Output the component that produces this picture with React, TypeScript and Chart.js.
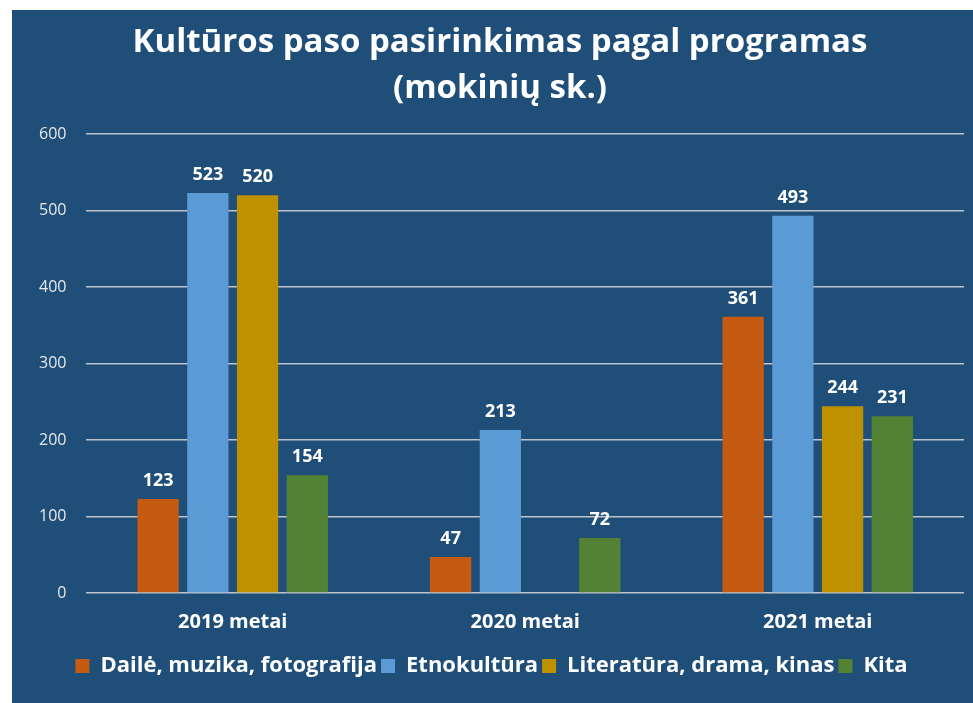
import React, { useEffect, useRef } from "react";
import { Chart, registerables } from "chart.js";

Chart.register(...registerables);

const categories = ["2019 metai", "2020 metai", "2021 metai"];
const seriesNames = ["Dailė, muzika, fotografija", "Etnokultūra", "Literatūra, drama, kinas", "Kita"];
const dailė = [123, 47, 361];
const etnokultura = [523, 213, 493];
const literatura: (number | null)[] = [520, null, 244];
const kita = [154, 72, 231];
const seriesColors = ["#C55A11", "#5B9BD5", "#BF9000", "#548235"];
const titleLines = ["Kultūros paso pasirinkimas pagal programas", "(mokinių sk.)"];

const FONT = "'Open Sans', Lato, sans-serif";

const valueLabels = {
  id: "valueLabels",
  afterDatasetsDraw(chart: any) {
    const ctx = chart.ctx;
    ctx.save();
    ctx.fillStyle = "#FFFFFF";
    ctx.font = `bold 18px ${FONT}`;
    ctx.textAlign = "center";
    ctx.textBaseline = "bottom";
    chart.data.datasets.forEach((ds: any, i: number) => {
      const meta = chart.getDatasetMeta(i);
      meta.data.forEach((el: any, j: number) => {
        const v = ds.data[j];
        if (v === null || v === undefined) return;
        ctx.fillText(String(v), el.x, el.y - 9);
      });
    });
    ctx.restore();
  },
};

const titlePlugin = {
  id: "centeredTitle",
  afterDraw(chart: any) {
    const ctx = chart.ctx;
    ctx.save();
    ctx.fillStyle = "#FFFFFF";
    ctx.font = `bold 33px ${FONT}`;
    ctx.textAlign = "center";
    ctx.textBaseline = "middle";
    const cx = chart.width / 2;
    ctx.fillText(titleLines[0], cx, 33);
    ctx.fillText(titleLines[1], cx, 79);
    ctx.restore();
  },
};

export default function App() {
  const ref = useRef<HTMLCanvasElement>(null);
  useEffect(() => {
    if (!ref.current) return;
    const data = [dailė, etnokultura, literatura, kita];
    const chart = new Chart(ref.current, {
      type: "bar",
      data: {
        labels: categories,
        datasets: seriesNames.map((name, i) => ({
          label: name,
          data: data[i] as any,
          backgroundColor: seriesColors[i],
          barPercentage: 0.83,
          categoryPercentage: 0.68,
        })),
      },
      options: {
        responsive: false,
        animation: false,
        layout: { padding: { left: 7, right: 24, top: 124, bottom: 16 } },
        plugins: {
          title: { display: false },
          legend: {
            position: "bottom",
            labels: {
              color: "#FFFFFF",
              font: { family: FONT, size: 22, weight: "bold" },
              boxWidth: 14,
              boxHeight: 14,
              padding: 4,
            },
          },
          tooltip: { enabled: false },
        },
        scales: {
          x: {
            grid: { display: false, drawTicks: false },
            border: { display: false },
            ticks: {
              color: "#FFFFFF",
              font: { family: FONT, size: 20, weight: "bold" },
              padding: 17,
            },
          },
          y: {
            min: 0,
            max: 600,
            grid: { color: "rgba(217,217,217,0.85)", lineWidth: 1.5, drawTicks: false },
            border: { display: false },
            ticks: {
              stepSize: 100,
              color: "#E8E8E8",
              font: { family: FONT, size: 16 },
              padding: 20,
            },
          },
        },
      },
      plugins: [valueLabels, titlePlugin],
    });
    return () => chart.destroy();
  }, []);

  return (
    <div style={{ position: "fixed", left: 0, top: 0, width: 973, height: 703, background: "#FFFFFF", overflow: "hidden" }}>
      <div style={{ position: "absolute", left: 12, top: 10, width: 976, height: 693, background: "#1F4E79" }}>
        <canvas ref={ref} width={976} height={693} style={{ display: "block" }} />
      </div>
    </div>
  );
}
